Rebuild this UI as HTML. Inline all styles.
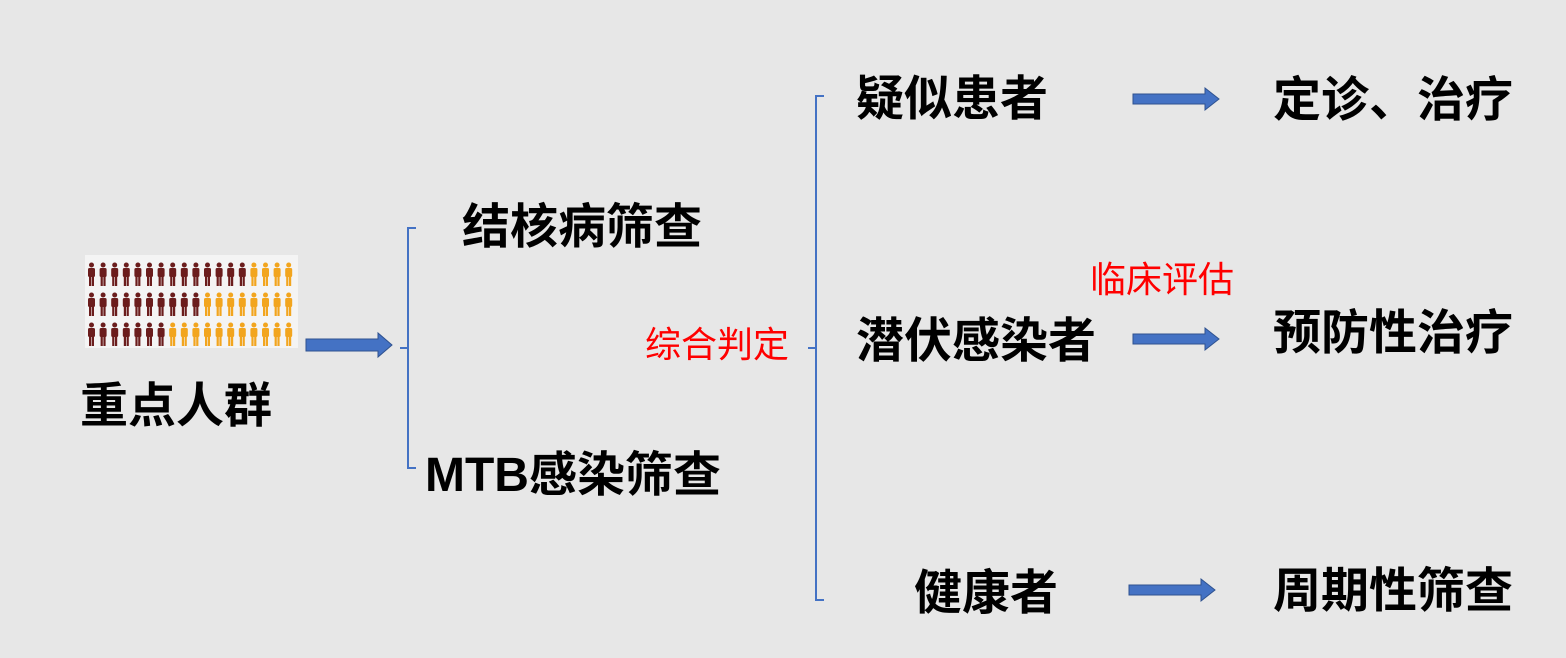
<!DOCTYPE html>
<html><head><meta charset="utf-8"><style>
body{margin:0;width:1566px;height:658px;background:#e7e7e7;position:relative;overflow:hidden;font-family:"Liberation Sans","Noto Sans CJK SC",sans-serif}
.t{position:absolute;font-weight:bold;font-size:48px;line-height:48px;color:#000;white-space:nowrap}
.r{position:absolute;font-size:36px;line-height:36px;color:#f00;white-space:nowrap}
</style></head><body>
<svg width="1566" height="658" style="position:absolute;left:0;top:0">
<rect x="85" y="255" width="213" height="93" fill="#f4f4f4"/>
<defs><g id="p"><circle cx="4.5" cy="3" r="2.5"/><rect x="1" y="6" width="7" height="9" rx="1.5"/><rect x="2" y="13" width="2.2" height="11"/><rect x="4.8" y="13" width="2.2" height="11"/></g></defs>
<g id="people"></g>
<g stroke="#4472c4" stroke-width="2" fill="none">
<path d="M416 228 H408 V468 H416 M400 348 H408"/>
<path d="M824 96 H816 V600 H824 M808 348 H816"/>
</g>
<g fill="#4472c4" stroke="#2f528f" stroke-width="1">
<path d="M306 339 H378 V333 L392 345 L378 357 V351 H306Z"/>
<path d="M1133 94 H1205 V88 L1219 99 L1205 110 V104 H1133Z"/>
<path d="M1133 334 H1205 V328 L1219 339 L1205 350 V344 H1133Z"/>
<path d="M1129 585 H1201 V579 L1215 590 L1201 601 V595 H1129Z"/>
</g>
</svg>
<script>
var g=document.getElementById('people'),d=[14,10,7],ys=[262,292,322],s='';
for(var r=0;r<3;r++)for(var i=0;i<18;i++){s+='<use href="#p" x="'+(87+i*11.6)+'" y="'+ys[r]+'" fill="'+(i<d[r]?'#6b1d1d':'#f2a51e')+'"/>';}
g.innerHTML=s;
</script>
<div class="t" style="left:80px;top:383px">重点人群</div>
<div class="t" style="left:462px;top:204px">结核病筛查</div>
<div class="t" style="left:425px;top:452px">MTB感染筛查</div>
<div class="t" style="left:856px;top:76px">疑似患者</div>
<div class="t" style="left:856px;top:318px">潜伏感染者</div>
<div class="t" style="left:914px;top:570px">健康者</div>
<div class="t" style="left:1273px;top:77px">定诊、治疗</div>
<div class="t" style="left:1273px;top:310px">预防性治疗</div>
<div class="t" style="left:1273px;top:568px">周期性筛查</div>
<div class="r" style="left:645px;top:327px">综合判定</div>
<div class="r" style="left:1090px;top:262px">临床评估</div>
</body></html>
